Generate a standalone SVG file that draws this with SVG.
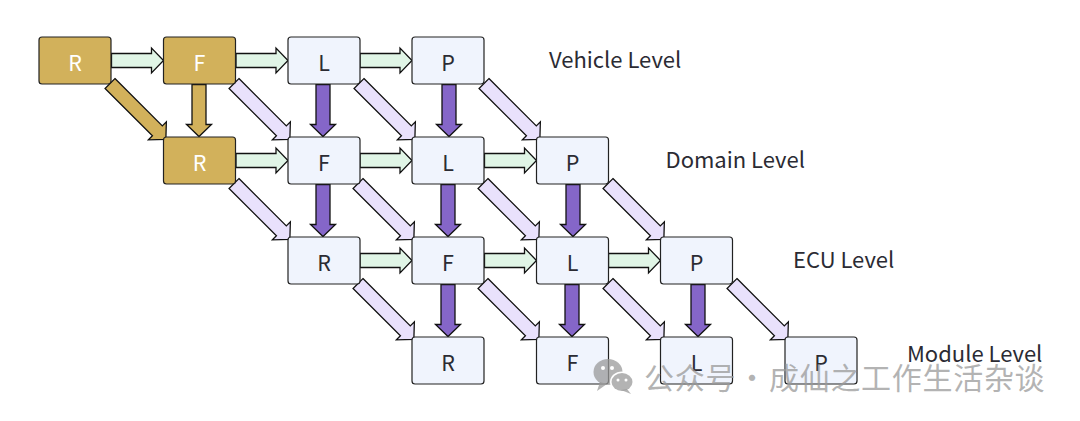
<svg xmlns="http://www.w3.org/2000/svg" width="1080" height="421" viewBox="0 0 1080 421">
<style>
text{font-family:"Noto Sans CJK SC","Noto Sans",sans-serif}
.b rect{fill:#f0f4fd;stroke:#222;stroke-width:1.2}
.g rect{fill:#d2b15b;stroke:#222;stroke-width:1.2}
.n text{font-size:21.500px;text-anchor:middle;dominant-baseline:central}
.b text{fill:#2b2b33}.g text{fill:#fff}
.lv{font-size:22px;fill:#2b2b33;dominant-baseline:central}
.c use{stroke:#111;stroke-width:1.3;stroke-linejoin:miter}
.gr{fill:#e0f5e6}.la{fill:#e9e1fc}.pu{fill:#8566c8}.go{fill:#d2b15b}
.wm{font-size:30px;letter-spacing:.7px;fill:#9a9a9a;fill-opacity:.75;dominant-baseline:central}
</style>
<defs>
<polygon id="h" points="0,-7 40,-7 40,-12.5 52,0 40,12.5 40,7 0,7"/>
<polygon id="d" points="0,-7 67,-7 67,-12.7 79,0 67,12.7 67,7 0,7"/>
</defs>
<g id="connectors" class="c">
<use href="#h" class="gr" x="111.5" y="60.5"/>
<use href="#h" class="gr" x="236" y="60.5"/>
<use href="#h" class="gr" x="360" y="60.5"/>
<use href="#h" class="gr" x="236" y="160.5"/>
<use href="#h" class="gr" x="360" y="160.5"/>
<use href="#h" class="gr" x="484.5" y="160.5"/>
<use href="#h" class="gr" x="360" y="260.5"/>
<use href="#h" class="gr" x="484.5" y="260.5"/>
<use href="#h" class="gr" x="608.5" y="260.5"/>
<use href="#h" class="go" transform="translate(199,84.5) rotate(90)"/>
<use href="#h" class="pu" transform="translate(323,84.5) rotate(90)"/>
<use href="#h" class="pu" transform="translate(449,84.5) rotate(90)"/>
<use href="#h" class="pu" transform="translate(323,184.5) rotate(90)"/>
<use href="#h" class="pu" transform="translate(448,184.5) rotate(90)"/>
<use href="#h" class="pu" transform="translate(573,184.5) rotate(90)"/>
<use href="#h" class="pu" transform="translate(448,284.5) rotate(90)"/>
<use href="#h" class="pu" transform="translate(572,284.5) rotate(90)"/>
<use href="#h" class="pu" transform="translate(698,284.5) rotate(90)"/>
<use href="#d" class="go" transform="translate(110,83.5) rotate(45)"/>
<use href="#d" class="la" transform="translate(234,83.5) rotate(45)"/>
<use href="#d" class="la" transform="translate(359,83.5) rotate(45)"/>
<use href="#d" class="la" transform="translate(484,83.5) rotate(45)"/>
<use href="#d" class="la" transform="translate(234,183.5) rotate(45)"/>
<use href="#d" class="la" transform="translate(358,183.5) rotate(45)"/>
<use href="#d" class="la" transform="translate(483,183.5) rotate(45)"/>
<use href="#d" class="la" transform="translate(608,183.5) rotate(45)"/>
<use href="#d" class="la" transform="translate(358,283.5) rotate(45)"/>
<use href="#d" class="la" transform="translate(483,283.5) rotate(45)"/>
<use href="#d" class="la" transform="translate(608,283.5) rotate(45)"/>
<use href="#d" class="la" transform="translate(732,283.5) rotate(45)"/>
</g>
<g id="n-r0c0" class="n g"><rect x="39" y="37" width="72" height="47" rx="3"/><text x="75" y="61">R</text></g>
<g id="n-r0c1" class="n g"><rect x="163.500" y="37" width="72" height="47" rx="3"/><text x="199.500" y="61">F</text></g>
<g id="n-r0c2" class="n b"><rect x="288" y="37" width="72" height="47" rx="3"/><text x="324" y="61">L</text></g>
<g id="n-r0c3" class="n b"><rect x="412" y="37" width="72" height="47" rx="3"/><text x="448" y="61">P</text></g>
<g id="n-r1c1" class="n g"><rect x="163.500" y="137" width="72" height="47" rx="3"/><text x="199.500" y="161">R</text></g>
<g id="n-r1c2" class="n b"><rect x="288" y="137" width="72" height="47" rx="3"/><text x="324" y="161">F</text></g>
<g id="n-r1c3" class="n b"><rect x="412" y="137" width="72" height="47" rx="3"/><text x="448" y="161">L</text></g>
<g id="n-r1c4" class="n b"><rect x="536.500" y="137" width="72" height="47" rx="3"/><text x="572.500" y="161">P</text></g>
<g id="n-r2c2" class="n b"><rect x="288" y="237" width="72" height="47" rx="3"/><text x="324" y="261">R</text></g>
<g id="n-r2c3" class="n b"><rect x="412" y="237" width="72" height="47" rx="3"/><text x="448" y="261">F</text></g>
<g id="n-r2c4" class="n b"><rect x="536.500" y="237" width="72" height="47" rx="3"/><text x="572.500" y="261">L</text></g>
<g id="n-r2c5" class="n b"><rect x="660.500" y="237" width="72" height="47" rx="3"/><text x="696.500" y="261">P</text></g>
<g id="n-r3c3" class="n b"><rect x="412" y="337" width="72" height="47" rx="3"/><text x="448" y="361">R</text></g>
<g id="n-r3c4" class="n b"><rect x="536.500" y="337" width="72" height="47" rx="3"/><text x="572.500" y="361">F</text></g>
<g id="n-r3c5" class="n b"><rect x="660.500" y="337" width="72" height="47" rx="3"/><text x="696.500" y="361">L</text></g>
<g id="n-r3c6" class="n b"><rect x="785" y="337" width="72" height="47" rx="3"/><text x="821" y="361">P</text></g>
<g id="labels">
<text class="lv" x="549" y="58">Vehicle Level</text>
<text class="lv" x="665.500" y="158">Domain Level</text>
<text class="lv" x="793" y="258">ECU Level</text>
<text class="lv" x="907" y="352">Module Level</text>
</g>
<g id="watermark">
<g fill="#9a9a9a" fill-opacity=".75">
<ellipse cx="608" cy="372" rx="14.500" ry="13"/>
<polygon points="600,382 597,391 607,384"/>
</g>
<ellipse cx="622" cy="382" rx="12" ry="10.500" fill="#fff"/>
<g fill="#9a9a9a" fill-opacity=".75">
<ellipse cx="622" cy="382" rx="10.500" ry="9"/>
<polygon points="627,389 631,394 621,390"/>
</g>
<g fill="#fff"><circle cx="603" cy="368" r="2"/><circle cx="612" cy="368" r="2"/><circle cx="618" cy="380" r="1.500"/><circle cx="626" cy="380" r="1.500"/></g>
<text class="wm" y="376"><tspan x="644">公众号</tspan><tspan x="737">·</tspan><tspan x="769">成仙之工作生活杂谈</tspan></text>
</g>
</svg>
